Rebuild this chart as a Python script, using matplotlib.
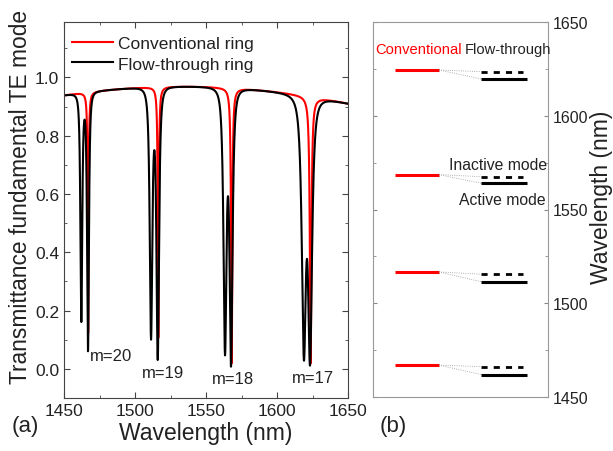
import numpy as np
import matplotlib
matplotlib.use("Agg")
import matplotlib.pyplot as plt
from matplotlib.ticker import MultipleLocator

plt.rcParams['font.family'] = ['Liberation Sans', 'DejaVu Sans']

# ---------------- data ----------------
# smooth background transmission
base_wl = [1450, 1500, 1540, 1600, 1620, 1650]
base_T = [0.939, 0.962, 0.970, 0.950, 0.935, 0.911]

# conventional ring resonances
conv_center = [1467.0, 1516.4, 1568.1, 1623.7]
conv_depth = [0.87, 0.89, 0.98, 0.98]
conv_gamma = [0.35, 0.40, 0.50, 0.65]
conv_shape = 1.0

# flow-through ring resonances (split pairs)
flow_center = [1462.2, 1466.9, 1511.3, 1516.0, 1563.4, 1567.6, 1619.0, 1623.2]
flow_depth = [0.829, 0.936, 0.894, 0.968, 0.950, 0.992, 0.967, 0.987]
flow_gamma = [0.98, 0.98, 1.37, 1.37, 1.60, 1.60, 2.18, 2.18]
flow_shape = 1.5

mode_labels = ["m=20", "m=19", "m=18", "m=17"]
mode_label_x = [1468.3, 1505.0, 1554.2, 1610.6]
mode_label_y = [0.045, -0.014, -0.034, -0.031]

# panel (b) levels
conv_levels = [1624.4, 1568.6, 1516.7, 1467.0]
inactive_levels = [1623.5, 1567.5, 1515.5, 1466.2]
active_levels = [1619.6, 1564.0, 1511.5, 1462.0]

# ---------------- spectra ----------------
wl = np.linspace(1450, 1650, 40001)
coef = np.polyfit(base_wl, base_T, 3)
baseline = np.polyval(coef, wl)


def spectrum(centers, depths, gammas, p):
    T = baseline.copy()
    for c, d, g in zip(centers, depths, gammas):
        T *= 1 - d / (1 + ((wl - c) / g) ** 2) ** p
    return T


T_conv = spectrum(conv_center, conv_depth, conv_gamma, conv_shape)
T_flow = spectrum(flow_center, flow_depth, flow_gamma, flow_shape)

# ---------------- figure ----------------
fig = plt.figure(figsize=(6.13, 4.52), dpi=100)
axa = fig.add_axes([64 / 613, 1 - 399 / 452, 284 / 613, 376 / 452])
axb = fig.add_axes([373 / 613, 1 - 398 / 452, 175 / 613, 375 / 452])

tc = '#222222'
axa.plot(wl, T_conv, color='#ff0000', lw=1.5, label='Conventional ring')
axa.plot(wl, T_flow, color='black', lw=1.5, label='Flow-through ring')
axa.set_xlim(1450, 1650)
axa.set_ylim(-0.1, 1.19)
axa.xaxis.set_major_locator(MultipleLocator(50))
axa.xaxis.set_minor_locator(MultipleLocator(25))
axa.yaxis.set_major_locator(MultipleLocator(0.2))
axa.yaxis.set_minor_locator(MultipleLocator(0.1))
axa.tick_params(which='both', direction='in', top=True, right=True, colors='#444444',
                labelcolor=tc, labelsize=12.5)
axa.tick_params(which='major', length=4)
axa.tick_params(which='minor', length=2)
for s in axa.spines.values():
    s.set_color('#444444')
axa.set_xlabel('Wavelength (nm)', fontsize=16.5, color=tc, labelpad=2)
axa.set_ylabel('Transmittance fundamental TE mode', fontsize=16.4, color=tc)
axa.yaxis.set_label_coords((32 - 64) / 284, (399 - 197) / 376)
leg = axa.legend(loc='upper left', fontsize=12.5, frameon=False, handlelength=2.35,
                 borderaxespad=0.0, labelspacing=0.32, handletextpad=0.3,
                 bbox_to_anchor=(0.0035, 0.982))
for t in leg.get_texts():
    t.set_color(tc)
for lab, x, y in zip(mode_labels, mode_label_x, mode_label_y):
    axa.text(x, y, lab, fontsize=12, color=tc, ha='left', va='center')

# panel (b)
axb.set_xlim(0, 1)
axb.set_ylim(1450, 1650)
for yc, yi, ya in zip(conv_levels, inactive_levels, active_levels):
    axb.plot([0.126, 0.377], [yc, yc], color='#ff0000', lw=2.2, solid_capstyle='butt')
    axb.plot([0.617, 0.855], [yi, yi], color='black', lw=2, ls=(0, (2.2, 2.2)))
    axb.plot([0.617, 0.88], [ya, ya], color='black', lw=2.2, solid_capstyle='butt')
    axb.plot([0.377, 0.617], [yc, yi], color='#999999', lw=0.6, ls=':')
    axb.plot([0.377, 0.617], [yc, ya], color='#999999', lw=0.6, ls=':')
axb.set_xticks([])
axb.yaxis.set_major_locator(MultipleLocator(50))
axb.yaxis.set_minor_locator(MultipleLocator(25))
axb.yaxis.tick_right()
axb.yaxis.set_label_position('right')
axb.tick_params(which='both', direction='in', left=True, right=True, colors='#888888',
                labelcolor=tc, labelsize=11.5)
axb.tick_params(which='major', length=3)
axb.tick_params(which='minor', length=2)
for s in axb.spines.values():
    s.set_color('#999999')
axb.set_ylabel('Wavelength (nm)', fontsize=16.5, color=tc)
axb.yaxis.set_label_coords((590 - 373) / 175, (398 - 197) / 375)
axb.text(0.01, 1635.5, 'Conventional', color='#ff0000', fontsize=10.6, ha='left', va='center')
axb.text(0.525, 1635.5, 'Flow-through', color=tc, fontsize=10.6, ha='left', va='center')
axb.text(0.435, 1574.0, 'Inactive mode', color=tc, fontsize=11.3, ha='left', va='center')
axb.text(0.492, 1555.5, 'Active mode', color=tc, fontsize=11.3, ha='left', va='center')

fig.text(12 / 613, 1 - 432 / 452, '(a)', fontsize=16, color=tc, ha='left', va='baseline')
fig.text(380 / 613, 1 - 432 / 452, '(b)', fontsize=16, color=tc, ha='left', va='baseline')

fig.savefig('out.png', dpi=100)
